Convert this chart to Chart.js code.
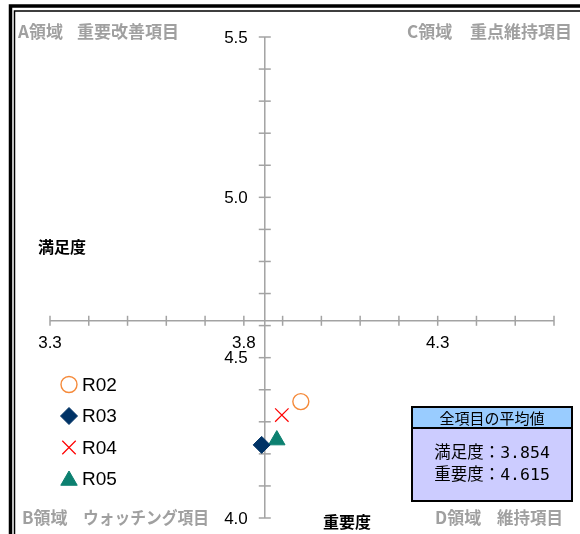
<!DOCTYPE html>
<html lang="ja">
<head>
<meta charset="utf-8">
<title>満足度・重要度 散布図</title>
<script src="https://cdn.jsdelivr.net/npm/chart.js@4/dist/chart.umd.min.js"></script>
<style>
  html, body { margin: 0; padding: 0; background: #fff; }
  #chart { display: block; }
</style>
</head>
<body>
<canvas id="chart" width="580" height="534"></canvas>
<script>
// 年度ごとの平均値
const seriesNames = ['R02', 'R03', 'R04', 'R05'];
const manzokudo = [3.947, 3.846, 3.898, 3.885]; // 満足度（横軸）
const juyodo = [4.363, 4.228, 4.321, 4.243];    // 重要度（縦軸）

// 全項目の平均値 = 軸の交点
const avgManzokudo = 3.854;
const avgJuyodo = 4.615;

// 目盛り
const xTicks = [3.3, 3.4, 3.5, 3.6, 3.7, 3.8, 3.9, 4.0, 4.1, 4.2, 4.3, 4.4, 4.5, 4.6];
const xTickLabels = ['3.3', '3.8', '4.3'];
const yTicks = [4.0, 4.1, 4.2, 4.3, 4.4, 4.5, 4.6, 4.7, 4.8, 4.9, 5.0, 5.1, 5.2, 5.3, 5.4, 5.5];
const yTickLabels = ['4.0', '4.5', '5.0', '5.5'];

// 領域の見出し
const areaA = ['A領域', '重要改善項目'];
const areaB = ['B領域', 'ウォッチング項目'];
const areaC = ['C領域', '重点維持項目'];
const areaD = ['D領域', '維持項目'];

// マーカーの見た目
const markerStyles = [
    { pointStyle: 'circle', radius: 8, borderWidth: 1.4, borderColor: '#f58a3a', backgroundColor: 'rgba(0,0,0,0)' },
    { pointStyle: 'rectRot', radius: 8.5, borderWidth: 1, borderColor: '#003366', backgroundColor: '#003366' },
    { pointStyle: 'crossRot', radius: 9.5, borderWidth: 1.2, borderColor: '#ff0000', backgroundColor: '#ff0000' },
    { pointStyle: 'triangle', radius: 9.5, borderWidth: 1, borderColor: '#0c8070', backgroundColor: '#0c8070' }
];

const AXIS_COLOR = '#a3a3a3';
const AREA_COLOR = '#a0a0a0';
const JP_FONT = '"Noto Sans CJK JP", "Noto Sans", sans-serif';
const NUM_FONT = '"Liberation Sans", Arial, sans-serif';

function line(ctx, x1, y1, x2, y2) {
    ctx.beginPath();
    ctx.moveTo(x1, y1);
    ctx.lineTo(x2, y2);
    ctx.stroke();
}

function drawMarker(ctx, opts, x, y) {
    ctx.save();
    ctx.fillStyle = opts.backgroundColor;
    ctx.strokeStyle = opts.borderColor;
    ctx.lineWidth = opts.borderWidth;
    Chart.helpers.drawPoint(ctx, opts, x, y);
    ctx.restore();
}

const quadrantPlugin = {
    id: 'quadrant',
    beforeDraw(chart) {
        const ctx = chart.ctx;
        // 二重線の外枠
        ctx.save();
        ctx.strokeStyle = '#000';
        ctx.lineWidth = 3.5;
        ctx.strokeRect(10.5, 6, 700, 700);
        ctx.lineWidth = 1.5;
        ctx.strokeRect(14.5, 11, 700, 700);
        ctx.restore();
    },
    beforeDatasetsDraw(chart) {
        const ctx = chart.ctx;
        const xs = chart.scales.x;
        const ys = chart.scales.y;
        const ax = xs.getPixelForValue(avgManzokudo);
        const ay = ys.getPixelForValue(avgJuyodo);

        ctx.save();
        ctx.strokeStyle = AXIS_COLOR;
        ctx.lineWidth = 1.5;

        // 横軸（重要度の平均で交差）
        line(ctx, xs.getPixelForValue(xTicks[0]), ay, xs.getPixelForValue(xTicks[xTicks.length - 1]), ay);
        xTicks.forEach(v => {
            const px = xs.getPixelForValue(v);
            line(ctx, px, ay - 5, px, ay + 5);
        });

        // 縦軸（満足度の平均で交差）
        line(ctx, ax, ys.getPixelForValue(yTicks[0]), ax, ys.getPixelForValue(yTicks[yTicks.length - 1]));
        yTicks.forEach(v => {
            const py = ys.getPixelForValue(v);
            line(ctx, ax - 6, py, ax + 6, py);
        });

        // 目盛りラベル
        ctx.fillStyle = '#000';
        ctx.font = '17px ' + NUM_FONT;
        ctx.textBaseline = 'middle';
        ctx.textAlign = 'center';
        xTickLabels.forEach(t => {
            ctx.fillText(t, xs.getPixelForValue(parseFloat(t)), ay + 23);
        });
        ctx.textAlign = 'right';
        yTickLabels.forEach(t => {
            ctx.fillText(t, ax - 17, ys.getPixelForValue(parseFloat(t)) + 1);
        });
        ctx.restore();
    },
    afterDatasetsDraw(chart) {
        const ctx = chart.ctx;
        ctx.save();

        // 領域の見出し
        ctx.fillStyle = AREA_COLOR;
        ctx.font = 'bold 17px ' + JP_FONT;
        ctx.textBaseline = 'middle';
        ctx.textAlign = 'left';
        ctx.fillText(areaA[0], 18, 32);
        ctx.fillText(areaA[1], 77, 32, 104);
        ctx.fillText(areaC[0], 407, 32);
        ctx.fillText(areaC[1], 470, 32, 102);
        ctx.fillText(areaB[0], 22, 518);
        ctx.fillText(areaB[1], 83, 518, 126);
        ctx.fillText(areaD[0], 435, 518);
        ctx.fillText(areaD[1], 497, 518, 66);

        // 軸の見出し
        ctx.fillStyle = '#000';
        ctx.font = 'bold 16px ' + JP_FONT;
        ctx.fillText('満足度', 38, 247);
        ctx.fillText('重要度', 323, 522);

        // 凡例
        ctx.font = '19px ' + NUM_FONT;
        seriesNames.forEach((name, i) => {
            const opts = chart.getDatasetMeta(i).data[0].options;
            const y = 384.5 + i * 31.5;
            drawMarker(ctx, opts, 69, y + (opts.pointStyle === 'triangle' ? 1.5 : 0));
            ctx.fillStyle = '#000';
            ctx.fillText(name, 82, y + 1);
        });

        // 全項目の平均値
        const bx = 412, by = 407, bw = 160, bh = 94, hh = 21;
        ctx.fillStyle = '#ccccff';
        ctx.fillRect(bx, by, bw, bh);
        ctx.fillStyle = '#99ccff';
        ctx.fillRect(bx, by, bw, hh);
        ctx.strokeStyle = '#000';
        ctx.lineWidth = 2;
        ctx.strokeRect(bx, by, bw, bh);
        line(ctx, bx, by + hh, bx + bw, by + hh);

        ctx.fillStyle = '#000';
        ctx.textAlign = 'center';
        ctx.font = '15px ' + JP_FONT;
        ctx.fillText('全項目の平均値', bx + bw / 2, by + hh / 2 + 1);
        ctx.font = '16.5px "DejaVu Sans Mono", ' + JP_FONT;
        ctx.fillText('満足度：' + avgManzokudo.toFixed(3), bx + bw / 2, 454);
        ctx.fillText('重要度：' + avgJuyodo.toFixed(3), bx + bw / 2, 476);

        ctx.restore();
    }
};

const datasets = seriesNames.map((name, i) => ({
    label: name,
    data: [{ x: manzokudo[i], y: juyodo[i] }],
    pointStyle: markerStyles[i].pointStyle,
    pointRadius: markerStyles[i].radius,
    pointBorderWidth: markerStyles[i].borderWidth,
    pointBorderColor: markerStyles[i].borderColor,
    pointBackgroundColor: markerStyles[i].backgroundColor
}));

new Chart(document.getElementById('chart').getContext('2d'), {
    type: 'scatter',
    data: { datasets: datasets },
    options: {
        responsive: false,
        animation: false,
        layout: { padding: { left: 50, right: 26, top: 37, bottom: 16 } },
        plugins: {
            legend: { display: false },
            tooltip: { enabled: false }
        },
        scales: {
            x: { type: 'linear', min: 3.3, max: 4.6, display: false },
            y: { type: 'linear', min: 4.0, max: 5.5, display: false }
        }
    },
    plugins: [quadrantPlugin]
});
</script>
</body>
</html>
